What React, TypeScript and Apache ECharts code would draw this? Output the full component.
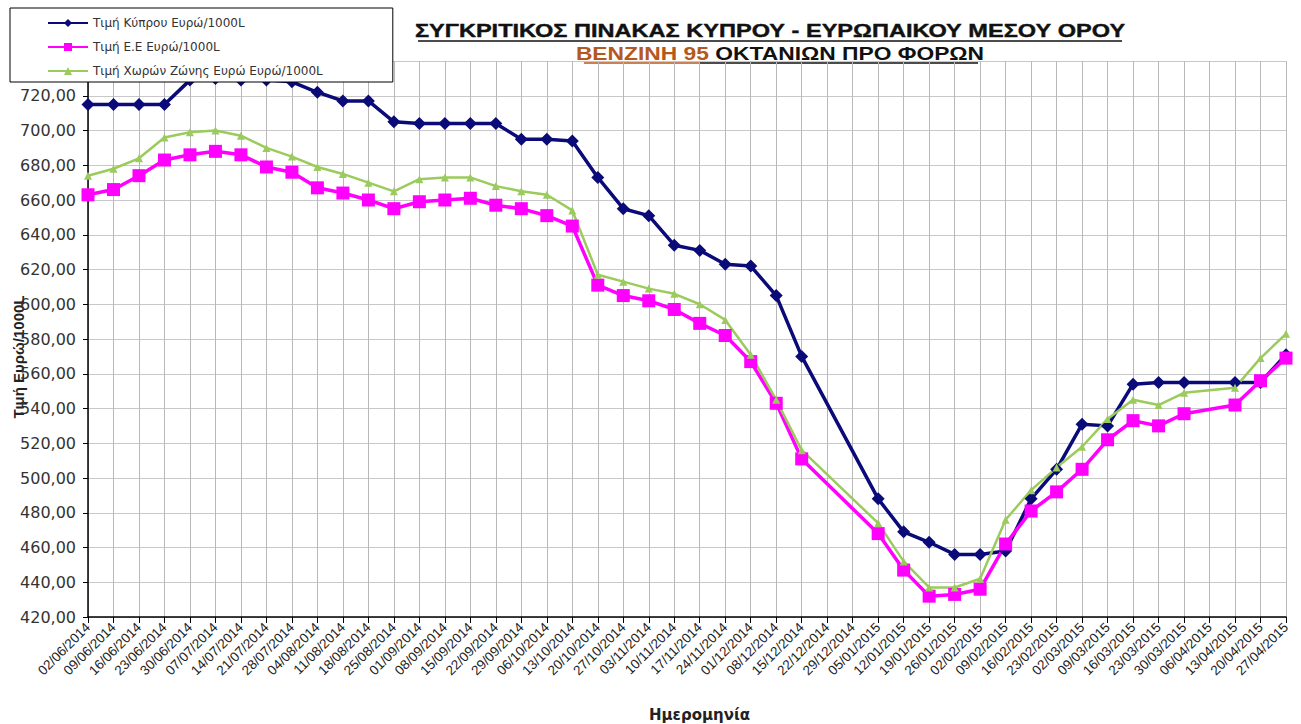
import React, { useEffect, useRef } from "react";
import * as echarts from "echarts";

const dates = [
  "02/06/2014", "09/06/2014", "16/06/2014", "23/06/2014", "30/06/2014", "07/07/2014",
  "14/07/2014", "21/07/2014", "28/07/2014", "04/08/2014", "11/08/2014", "18/08/2014",
  "25/08/2014", "01/09/2014", "08/09/2014", "15/09/2014", "22/09/2014", "29/09/2014",
  "06/10/2014", "13/10/2014", "20/10/2014", "27/10/2014", "03/11/2014", "10/11/2014",
  "17/11/2014", "24/11/2014", "01/12/2014", "08/12/2014", "15/12/2014", "22/12/2014",
  "29/12/2014", "05/01/2015", "12/01/2015", "19/01/2015", "26/01/2015", "02/02/2015",
  "09/02/2015", "16/02/2015", "23/02/2015", "02/03/2015", "09/03/2015", "16/03/2015",
  "23/03/2015", "30/03/2015", "06/04/2015", "13/04/2015", "20/04/2015", "27/04/2015",
];

const cyprus = [
  715, 715, 715, 715, 729, 730, 729, 729, 728, 722, 717, 717,
  705, 704, 704, 704, 704, 695, 695, 694, 673, 655, 651, 634,
  631, 623, 622, 605, 570, null, null, 488, 469, 463, 456, 456,
  458, 488, 505, 531, 530, 554, 555, 555, null, 555, 555, 571,
];

const eu = [
  663, 666, 674, 683, 686, 688, 686, 679, 676, 667, 664, 660,
  655, 659, 660, 661, 657, 655, 651, 645, 611, 605, 602, 597,
  589, 582, 567, 543, 511, null, null, 468, 447, 432, 433, 436,
  462, 481, 492, 505, 522, 533, 530, 537, null, 542, 556, 569,
];

const eurozone = [
  674, 678, 684, 696, 699, 700, 697, 690, 685, 679, 675, 670,
  665, 672, 673, 673, 668, 665, 663, 654, 617, 613, 609, 606,
  600, 591, 571, 545, 516, null, null, 474, 452, 437, 437, 442,
  476, 493, 506, 518, 534, 545, 542, 549, null, 552, 569, 583,
];

const seriesNames = [
  "Τιμή Κύπρου Ευρώ/1000L",
  "Τιμή Ε.Ε Ευρώ/1000L",
  "Τιμή Χωρών Ζώνης Ευρώ Ευρώ/1000L",
];

const titleLine1 = "ΣΥΓΚΡΙΤΙΚΟΣ ΠΙΝΑΚΑΣ ΚΥΠΡΟΥ - ΕΥΡΩΠΑΙΚΟΥ ΜΕΣΟΥ ΟΡΟΥ";
const titleLine2a = "ΒΕΝΖΙΝΗ 95";
const titleLine2b = "ΟΚΤΑΝΙΩΝ ΠΡΟ ΦΟΡΩΝ";
const yAxisName = "Τιμή Ευρώ/1000L";
const xAxisName = "Ημερομηνία";

export default function App() {
  const ref = useRef<HTMLDivElement>(null);

  useEffect(() => {
    if (!ref.current) return;
    const chart = echarts.init(ref.current, null, { renderer: "svg" });
    const font = '"Liberation Sans", Arial, sans-serif';
    const option = {
      animation: false,
      backgroundColor: "#ffffff",
      grid: { left: 88, right: 15, top: 61, bottom: 107, containLabel: false, outerBoundsMode: "none" },
      legend: {
        orient: "vertical",
        left: 10,
        top: 8,
        backgroundColor: "#ffffff",
        borderColor: "#000000",
        borderWidth: 1,
        borderRadius: 0,
        padding: [9, 70, 5, 37],
        itemGap: 12,
        itemWidth: 40,
        itemHeight: 10,
        textStyle: { fontFamily: '"DejaVu Sans", sans-serif', fontSize: 12, color: "#333" },
        data: seriesNames,
      },
      graphic: [
        {
          type: "text",
          x: 770,
          y: 31,
          scaleX: 1.24,
          style: {
            text: titleLine1,
            font: `bold 19px ${font}`,
            fill: "#111",
            stroke: "#111",
            lineWidth: 0.4,
            textAlign: "center",
            textVerticalAlign: "middle",
          },
        },
        {
          type: "text",
          x: 780,
          y: 53,
          scaleX: 1.2,
          style: {
            text: `{o|${titleLine2a}} {b|${titleLine2b}}`,
            font: `bold 19px ${font}`,
            textAlign: "center",
            textVerticalAlign: "middle",
            rich: {
              o: { fill: "#b5581e", fontSize: 19, fontWeight: "bold", fontFamily: font },
              b: { fill: "#111", fontSize: 19, fontWeight: "bold", fontFamily: font },
            },
          },
        },
        {
          type: "line",
          shape: { x1: 418, y1: 41, x2: 1122, y2: 41 },
          style: { stroke: "#111", lineWidth: 1.5 },
        },
        {
          type: "line",
          shape: { x1: 584, y1: 63, x2: 700, y2: 63 },
          style: { stroke: "#b5581e", lineWidth: 1.5 },
        },
        {
          type: "line",
          shape: { x1: 700, y1: 63, x2: 978, y2: 63 },
          style: { stroke: "#111", lineWidth: 1.5 },
        },
      ],
      xAxis: {
        type: "category",
        data: dates,
        boundaryGap: false,
        name: xAxisName,
        nameLocation: "middle",
        nameGap: 90,
        nameMoveOverlap: false,
        nameTextStyle: { fontFamily: '"DejaVu Sans", sans-serif', fontSize: 15, fontWeight: "bold", color: "#222", padding: [0, 0, 0, 25] },
        axisLine: { lineStyle: { color: "#000", width: 1.5 } },
        axisTick: { show: true, interval: 0, length: 6, lineStyle: { color: "#000" } },
        axisLabel: {
          interval: 0,
          rotate: 45,
          fontFamily: font,
          fontSize: 13.5,
          color: "#222",
          margin: 8,
        },
        splitLine: { show: true, interval: 0, lineStyle: { color: "#b8b8b8", width: 1 } },
      },
      yAxis: {
        type: "value",
        min: 420,
        max: 740,
        interval: 20,
        name: yAxisName,
        nameLocation: "middle",
        nameRotate: 90,
        nameGap: 62,
        nameMoveOverlap: false,
        nameTextStyle: { fontFamily: font, fontSize: 15, fontWeight: "bold", color: "#222", padding: [0, 36, 0, 0] },
        axisLine: { show: true, lineStyle: { color: "#000", width: 1.5 } },
        axisTick: { show: true, length: 5, lineStyle: { color: "#000" } },
        axisLabel: {
          fontFamily: '"DejaVu Sans", sans-serif',
          fontSize: 16,
          color: "#333",
          margin: 12,
          formatter: (v: number) => v.toFixed(2).replace(".", ","),
        },
        splitLine: { show: true, lineStyle: { color: "#c8c8c8", width: 1 } },
      },
      series: [
        {
          name: seriesNames[0],
          type: "line",
          data: cyprus,
          connectNulls: true,
          symbol: "diamond",
          symbolSize: 13,
          z: 3,
          lineStyle: { color: "#0a0a78", width: 3.5 },
          itemStyle: { color: "#0a0a78" },
        },
        {
          name: seriesNames[1],
          type: "line",
          data: eu,
          connectNulls: true,
          symbol: "rect",
          symbolSize: 13,
          z: 3,
          lineStyle: { color: "#ff00ff", width: 3.5 },
          itemStyle: { color: "#ff00ff" },
        },
        {
          name: seriesNames[2],
          type: "line",
          data: eurozone,
          connectNulls: true,
          symbol: "triangle",
          symbolSize: 8,
          z: 3,
          lineStyle: { color: "#9acb5c", width: 2.5 },
          itemStyle: { color: "#9acb5c" },
        },
      ],
    };
    chart.setOption(option as any);
    return () => chart.dispose();
  }, []);

  return (
    <div
      ref={ref}
      style={{ position: "fixed", left: 0, top: 0, width: 1301, height: 724, background: "#fff" }}
    />
  );
}
